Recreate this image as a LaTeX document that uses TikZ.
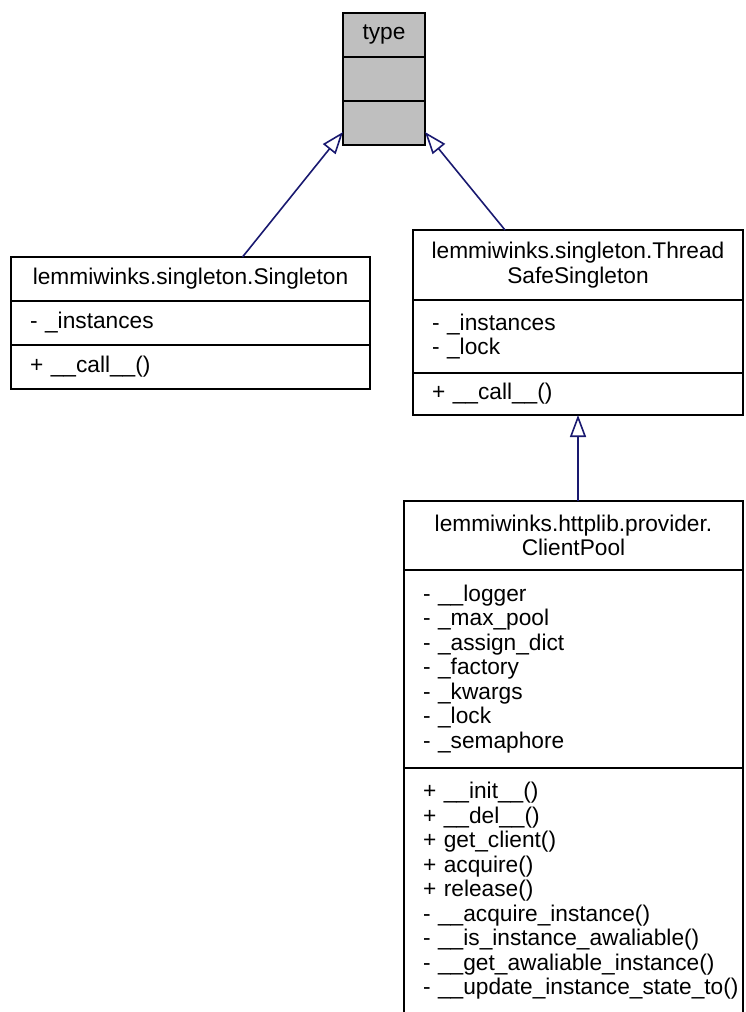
\documentclass[tikz,border=0pt]{standalone}
\usepackage{fontspec}
\newfontfamily\umlfont{Liberation Sans}
\usetikzlibrary{positioning,arrows.meta}
\definecolor{edgeblue}{RGB}{25,25,112}
\definecolor{basegray}{RGB}{191,191,191}
\hyphenpenalty=10000
\exhyphenpenalty=10000

\begin{document}
\begin{tikzpicture}[
  x=1pt, y=-1pt,
  font=\umlfont\fontsize{22.7}{24.5}\selectfont,
  part/.style={draw=black, line width=1.6pt, fill=white, outer sep=0pt, inner ysep=0pt},
  ttl/.style={part, align=center, minimum width=#1, inner xsep=0pt},
  mbr/.style={part, align=left, text width=#1, inner xsep=19pt},
  inh/.style={-{Triangle[open, length=22pt, width=16pt]}, line width=1.6pt, draw=edgeblue},
]
\useasboundingbox (0,0) rectangle (745,1012);
% base metaclass
\node[ttl=82pt, fill=basegray, minimum height=44pt, anchor=north west] (type) at (343,13) {type};
\node[mbr=44pt, fill=basegray, minimum height=44pt, below=0pt of type] (typeattr) {};
\node[mbr=44pt, fill=basegray, minimum height=44pt, below=0pt of typeattr] (typeops) {};
% singleton
\node[ttl=359pt, minimum height=44pt, anchor=north west] (sgl) at (11,257) {lemmiwinks.singleton.Singleton};
\node[mbr=321pt, minimum height=44pt, below=0pt of sgl] (sglattr) {- \_instances};
\node[mbr=321pt, minimum height=44pt, below=0pt of sglattr] (sglops) {+ \_\_call\_\_()};
% thread safe singleton
\node[ttl=330pt, minimum height=70pt, anchor=north west] (tsafe) at (413,230) {lemmiwinks.singleton.Thread\\SafeSingleton};
\node[mbr=292pt, minimum height=73pt, below=0pt of tsafe] (tsafeattr) {- \_instances\\- \_lock};
\node[mbr=292pt, minimum height=42pt, below=0pt of tsafeattr] (tsafeops) {+ \_\_call\_\_()};
% client pool
\node[ttl=339pt, minimum height=69pt, anchor=north west] (pool) at (404,501) {lemmiwinks.httplib.provider.\\ClientPool};
\node[mbr=301pt, minimum height=198pt, below=0pt of pool] (poolattr) {- \_\_logger\\- \_max\_pool\\- \_assign\_dict\\- \_factory\\- \_kwargs\\- \_lock\\- \_semaphore};
\node[mbr=301pt, minimum height=246pt, below=0pt of poolattr] (poolops) {+ \_\_init\_\_()\\+ \_\_del\_\_()\\+ get\_client()\\+ acquire()\\+ release()\\- \_\_acquire\_instance()\\- \_\_is\_instance\_awaliable()\\- \_\_get\_awaliable\_instance()\\-~\_\_update\_instance\_state\_to()};
% inheritance
\draw[inh] ([xshift=52pt]sgl.north) -- ([yshift=-9pt]typeops.west);
\draw[inh] ([xshift=-73pt]tsafe.north) -- ([yshift=-9pt]typeops.east);
\draw[inh] (pool.north -| tsafeops.south) -- (tsafeops.south);
\end{tikzpicture}
\end{document}
